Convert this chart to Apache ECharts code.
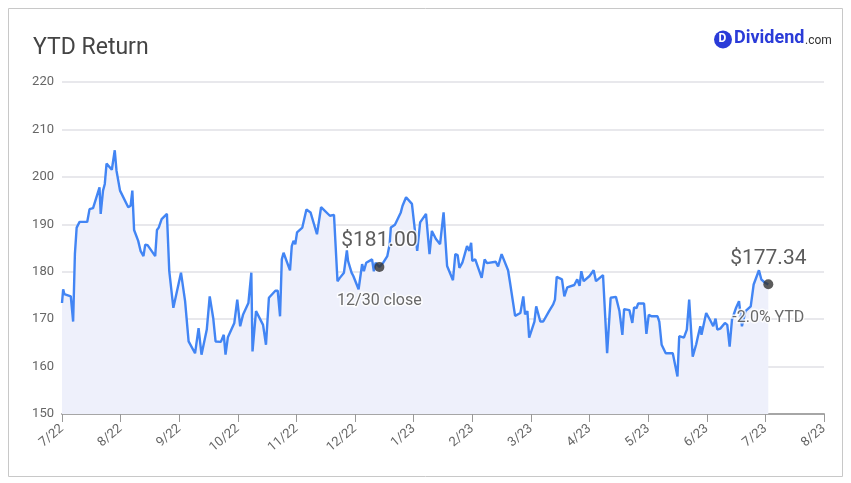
<!DOCTYPE html>
<html>
<head>
<meta charset="utf-8">
<script src="https://cdn.jsdelivr.net/npm/echarts@6/dist/echarts.min.js"></script>
<style>
html, body { margin: 0; padding: 0; background: #fff; }
#main { width: 851px; height: 483px; }
</style>
</head>
<body>
<div id="main"></div>
<script>
// x tick labels (one per month, evenly spaced)
var monthLabels = ['7/22', '8/22', '9/22', '10/22', '11/22', '12/22', '1/23', '2/23', '3/23', '4/23', '5/23', '6/23', '7/23', '8/23'];

// position of each close, in months since the 7/22 tick
var monthPos = [0, 0.02, 0.04, 0.15, 0.19, 0.22, 0.25, 0.30, 0.43, 0.47, 0.50, 0.53, 0.64, 0.66, 0.70, 0.73, 0.76, 0.85, 0.90, 0.93, 0.99,
    1.13, 1.17, 1.20, 1.23, 1.30, 1.34, 1.39, 1.42, 1.46, 1.59, 1.62, 1.65, 1.70, 1.79, 1.83, 1.86, 1.90,
    2.03, 2.10, 2.16, 2.27, 2.30, 2.33, 2.38, 2.47, 2.52, 2.58, 2.62, 2.71, 2.76, 2.79, 2.83, 2.86, 2.94, 2.99,
    3.04, 3.09, 3.18, 3.23, 3.25, 3.31, 3.43, 3.48, 3.53, 3.64, 3.68, 3.72, 3.75, 3.78, 3.89, 3.92, 3.95, 3.98,
    4.01, 4.10, 4.17, 4.24, 4.35, 4.42, 4.57, 4.64, 4.70, 4.74, 4.81, 4.86, 4.88, 4.94, 4.97,
    5.06, 5.12, 5.15, 5.19, 5.29, 5.32, 5.35, 5.415, 5.48, 5.55, 5.59, 5.61, 5.68, 5.78, 5.81, 5.87, 5.97,
    6.06, 6.11, 6.21, 6.27, 6.31, 6.38, 6.45, 6.51, 6.57, 6.67, 6.71, 6.75, 6.78, 6.83, 6.91, 6.95, 6.98,
    7.00, 7.05, 7.16, 7.21, 7.25, 7.40, 7.44, 7.50, 7.61, 7.64, 7.66, 7.73, 7.82, 7.87, 7.90, 7.94, 7.97,
    8.06, 8.09, 8.16, 8.21, 8.31, 8.38, 8.41, 8.44, 8.53, 8.57, 8.62, 8.74, 8.79, 8.83, 8.86, 8.90, 9.00,
    9.07, 9.11, 9.23, 9.30, 9.36, 9.45, 9.51, 9.56, 9.59, 9.68, 9.73, 9.76, 9.80, 9.83, 9.93, 9.97,
    10.01, 10.06, 10.16, 10.19, 10.23, 10.26, 10.30, 10.42, 10.50, 10.53, 10.61, 10.66, 10.70, 10.76, 10.82, 10.85, 10.89, 10.91, 10.99,
    11.07, 11.11, 11.15, 11.18, 11.23, 11.31, 11.35, 11.39, 11.43, 11.50, 11.55, 11.60, 11.66, 11.75, 11.80, 11.89, 11.93, 11.99, 12.05];

var closes = [173.4, 176.3, 175.3, 174.8, 169.5, 183.7, 189.3, 190.5, 190.5, 193.2, 193.6, 193.4, 197.8, 192.2, 197.1, 198.5, 202.8, 201.5, 205.6, 201.3, 197.1,
    193.6, 193.9, 197.1, 188.8, 186.5, 184.4, 183.3, 185.7, 185.6, 183.3, 188.8, 189.3, 191.1, 192.2, 180.1, 179.8, 172.4,
    179.8, 173.8, 165.3, 162.8, 162.5, 168.1, 162.5, 167.8, 174.8, 170.2, 165.3, 165.2, 166.7, 162.5, 166.2, 166.4, 169.2, 174.1,
    168.5, 171.0, 173.4, 179.8, 163.2, 171.7, 168.8, 164.6, 174.5, 176.0, 176.0, 170.6, 182.6, 184.0, 180.3, 185.4, 186.5, 185.8,
    188.3, 189.3, 193.1, 192.5, 187.9, 193.6, 191.8, 192.0, 178.0, 178.7, 179.8, 184.5, 182.3, 179.8, 179.1,
    176.3, 181.6, 180.1, 181.9, 182.6, 180.1, 181.9, 181.00, 181.9, 183.3, 185.8, 189.3, 189.9, 192.5, 193.9, 195.7, 194.3,
    184.4, 190.4, 192.2, 183.7, 188.6, 186.9, 185.8, 192.5, 181.2, 178.2, 183.7, 183.5, 180.8, 181.9, 185.4, 184.4, 186.1,
    182.3, 182.6, 178.7, 182.6, 181.8, 182.1, 181.1, 183.7, 180.3, 178.0, 178.4, 170.7, 171.3, 174.8, 171.0, 171.7, 166.1,
    169.5, 172.7, 169.5, 169.5, 171.7, 173.1, 174.1, 178.9, 178.4, 174.8, 176.7, 177.2, 178.4, 177.0, 180.1, 178.0, 179.1,
    180.3, 178.0, 179.3, 162.8, 174.5, 174.7, 171.7, 166.7, 172.1, 171.9, 169.2, 172.5, 172.3, 173.3, 173.3, 166.9,
    170.9, 170.6, 170.6, 169.5, 164.6, 164.5, 162.8, 162.8, 157.9, 166.4, 166.1, 167.8, 174.1, 162.1, 164.7, 166.4, 168.5, 166.7, 171.3,
    169.5, 168.5, 170.1, 167.8, 168.0, 169.2, 168.8, 164.2, 169.9, 172.4, 173.8, 168.5, 171.7, 172.7, 177.3, 180.3, 178.4, 177.7, 177.34];

// highlighted points: 12/30 close and latest close
var markPos = [5.415, 12.05];
var markVals = [181.00, 177.34];
var markNotes = ['12/30 close', '-2.0% YTD'];

var lineData = monthPos.map(function (m, i) { return [m, closes[i]]; });
var dotData = markPos.map(function (m, i) {
    return { value: [m, markVals[i]], note: markNotes[i] };
});

var myChart = echarts.init(document.getElementById('main'));
var font = 'Roboto, "Noto Sans", sans-serif';

var option = {
    animation: false,
    backgroundColor: '#fff',
    textStyle: { fontFamily: font },
    title: {
        text: 'YTD Return',
        left: 28,
        top: 32,
        textStyle: { fontSize: 23, fontWeight: 'normal', color: '#444', fontFamily: font }
    },
    graphic: [
        {
            type: 'rect',
            shape: { x: 8.5, y: 8.5, width: 834, height: 468 },
            style: { fill: 'none', stroke: '#c8c8c8', lineWidth: 1 },
            silent: true
        },
        {
            type: 'circle',
            shape: { cx: 723, cy: 39.5, r: 9 },
            style: { fill: '#2a3bd8' }
        },
        {
            type: 'text',
            left: 718.5, top: 33,
            style: { text: 'D', fill: '#fff', font: 'bold 12px ' + font }
        },
        {
            type: 'text',
            left: 734, top: 29,
            style: { text: 'Dividend', fill: '#2a3bd8', font: 'bold 18px ' + font }
        },
        {
            type: 'text',
            left: 805, top: 35,
            style: { text: '.com', fill: '#333', font: '12px ' + font }
        }
    ],
    grid: { left: 62, right: 27, top: 82, bottom: 69 },
    xAxis: {
        type: 'value',
        min: 0,
        max: monthLabels.length - 1,
        interval: 1,
        splitLine: { show: false },
        axisLine: { show: true, lineStyle: { color: '#a6a6a6', width: 2 } },
        axisTick: { show: true, length: 8, lineStyle: { color: '#999' } },
        axisLabel: {
            rotate: 40,
            color: '#666',
            fontSize: 13,
            margin: 13,
            formatter: function (v) { return monthLabels[Math.round(v)] || ''; }
        }
    },
    yAxis: {
        type: 'value',
        min: 150,
        max: 220,
        interval: 10,
        axisLine: { show: false },
        axisTick: { show: false },
        axisLabel: { color: '#666', fontSize: 13, margin: 8 },
        splitLine: { lineStyle: { color: '#e8e8ec', width: 2 } }
    },
    series: [
        {
            type: 'line',
            data: lineData,
            showSymbol: false,
            symbol: 'none',
            lineStyle: { color: '#4285f4', width: 2.4 },
            areaStyle: { color: '#eef0fb', opacity: 1 },
            z: 2
        },
        {
            type: 'scatter',
            data: dotData,
            symbolSize: 10,
            itemStyle: { color: '#333' },
            z: 5,
            label: {
                show: true,
                position: 'inside',
                offset: [0, 2.5],
                formatter: function (p) {
                    return '{p|$' + p.value[1].toFixed(2) + '}\n{g|}\n{s|' + p.data.note + '}';
                },
                rich: {
                    p: { fontSize: 21, color: '#333', lineHeight: 24, textBorderColor: '#fff', textBorderWidth: 3, fontFamily: font },
                    g: { height: 39, lineHeight: 39 },
                    s: { fontSize: 16, color: '#444', lineHeight: 18, textBorderColor: '#fff', textBorderWidth: 3, fontFamily: font }
                }
            }
        }
    ]
};

myChart.setOption(option);
</script>
</body>
</html>
